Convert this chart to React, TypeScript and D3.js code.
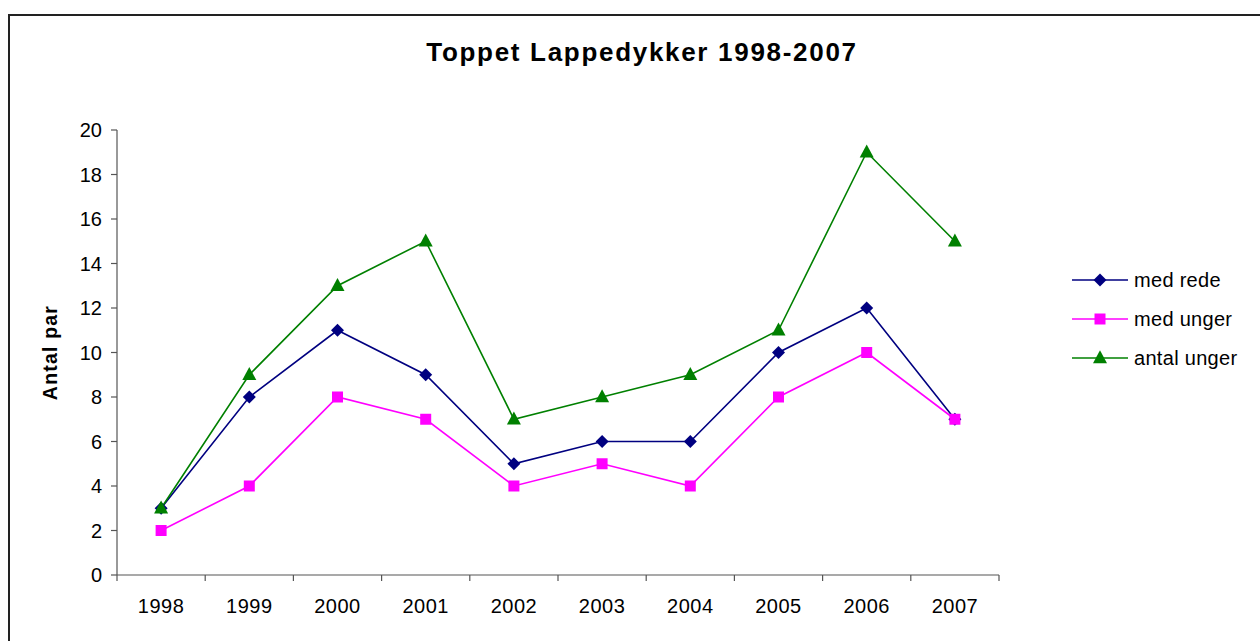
import React from "react";
import * as d3 from "d3";

const years = ["1998", "1999", "2000", "2001", "2002", "2003", "2004", "2005", "2006", "2007"];
const medRede = [3, 8, 11, 9, 5, 6, 6, 10, 12, 7];
const medUnger = [2, 4, 8, 7, 4, 5, 4, 8, 10, 7];
const antalUnger = [3, 9, 13, 15, 7, 8, 9, 11, 19, 15];
const yTicks = [0, 2, 4, 6, 8, 10, 12, 14, 16, 18, 20];

const seriesNames = ["med rede", "med unger", "antal unger"];
const seriesColors = ["#000080", "#FF00FF", "#008000"];
const seriesMarkers = ["diamond", "square", "triangle"];

function markerPath(kind: string) {
  if (kind === "diamond") {
    const r = 6.5;
    return `M0,${-r}L${r},0L0,${r}L${-r},0Z`;
  }
  if (kind === "square") {
    const r = 5.5;
    return `M${-r},${-r}H${r}V${r}H${-r}Z`;
  }
  const h = 13, w = 14;
  return `M0,${-h * 0.6}L${w / 2},${h * 0.4}L${-w / 2},${h * 0.4}Z`;
}

export default function App() {
  const W = 1260, H = 641;
  const left = 117, right = 999, top = 130, bottom = 575;
  const x = d3.scaleBand<string>().domain(years).range([left, right]);
  const y = d3.scaleLinear().domain([0, 20]).range([bottom, top]);
  const font = "'Liberation Sans', Arial, sans-serif";
  const allSeries = [medRede, medUnger, antalUnger];
  const line = d3.line<number>().x((_, i) => x(years[i])! + x.bandwidth() / 2).y((d) => y(d));
  const boundaries = years.map((yr) => x(yr)!).concat([right]);
  const legendY = [280, 319, 358];

  return (
    <svg width={W} height={H} style={{ position: "absolute", left: 0, top: 0, background: "#fff" }} fontFamily={font}>
      <rect x={9} y={15} width={1300} height={700} fill="#fff" stroke="#222" strokeWidth={2} />
      <text x={642} y={61} textAnchor="middle" fontSize={26} fontWeight="bold" letterSpacing={1.7}>Toppet Lappedykker 1998-2007</text>
      <text transform={`translate(57,${(top + bottom) / 2}) rotate(-90)`} textAnchor="middle" fontSize={19.5} fontWeight="bold" letterSpacing={1.2}>Antal par</text>
      {/* y axis */}
      <line x1={left} x2={left} y1={top} y2={bottom} stroke="#555" strokeWidth={1.2} />
      {yTicks.map((t) => (
        <g key={t}>
          <line x1={left - 6} x2={left} y1={y(t)} y2={y(t)} stroke="#555" strokeWidth={1.2} />
          <text x={102} y={y(t) + 7} textAnchor="end" fontSize={20}>{t}</text>
        </g>
      ))}
      {/* x axis */}
      <line x1={left} x2={right} y1={bottom} y2={bottom} stroke="#555" strokeWidth={1.2} />
      {boundaries.map((b, i) => (
        <line key={i} x1={b} x2={b} y1={bottom} y2={bottom + 6} stroke="#555" strokeWidth={1.2} />
      ))}
      {years.map((yr) => (
        <text key={yr} x={x(yr)! + x.bandwidth() / 2} y={613} textAnchor="middle" fontSize={20} letterSpacing={0.5}>{yr}</text>
      ))}
      {/* series */}
      {allSeries.map((s, si) => (
        <path key={si} d={line(s)!} fill="none" stroke={seriesColors[si]} strokeWidth={1.6} />
      ))}
      {allSeries.map((s, si) =>
        s.map((v, i) => (
          <path
            key={`${si}-${i}`}
            d={markerPath(seriesMarkers[si])}
            transform={`translate(${x(years[i])! + x.bandwidth() / 2},${y(v)})`}
            fill={seriesColors[si]}
          />
        ))
      )}
      {/* legend */}
      {seriesNames.map((n, i) => (
        <g key={n}>
          <line x1={1072} x2={1128} y1={legendY[i]} y2={legendY[i]} stroke={seriesColors[i]} strokeWidth={1.6} />
          <path d={markerPath(seriesMarkers[i])} transform={`translate(1100,${legendY[i]})`} fill={seriesColors[i]} />
          <text x={1134} y={legendY[i] + 7} fontSize={20} letterSpacing={0.3}>{n}</text>
        </g>
      ))}
    </svg>
  );
}
